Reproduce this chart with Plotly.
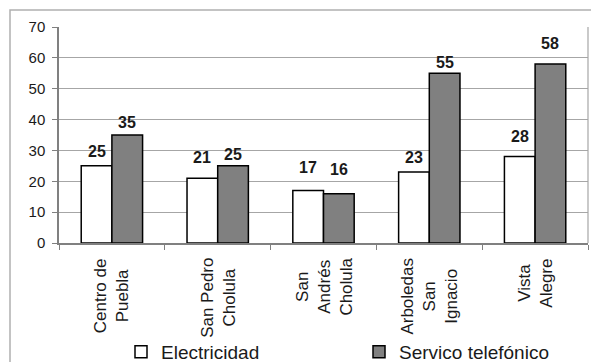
import plotly.graph_objects as go

# Survey results by neighbourhood
colonias = ["Centro de<br>Puebla", "San Pedro<br>Cholula", "San<br>Andrés<br>Cholula",
            "Arboledas<br>San<br>Ignacio", "Vista<br>Alegre"]
electricidad = [25, 21, 17, 23, 28]
telefono = [35, 25, 16, 55, 58]
y_ticks = [0, 10, 20, 30, 40, 50, 60, 70]

# vertical lift (px) of each value label above its bar
lift_elec = [8, 14, 17, 8, 14]
lift_tel = [6, 5, 18, 4, 14]
# box length (px) of each rotated category name, sized to its longest line
name_box = [79, 84, 62, 81, 54]

FONT = "Liberation Sans, Arial, sans-serif"
INK = "#1a1a1a"
BARGAP = 0.42

fig = go.Figure()
fig.add_trace(go.Bar(
    x=list(range(len(colonias))), y=electricidad, name="Electricidad",
    marker=dict(color="white", line=dict(color="black", width=1.5)),
    legend="legend",
))
fig.add_trace(go.Bar(
    x=list(range(len(colonias))), y=telefono, name="Servico telefónico",
    marker=dict(color="#808080", line=dict(color="black", width=1.5)),
    legend="legend2",
))

W, H = 591, 362
L, R, T, B = 59, 3, 27, 119
pw, ph = W - L - R, H - T - B

def px(x):
    return (x - L) / pw

def py(y):
    return (H - B - y) / ph

annotations = []
# value labels above each bar (bar centres are a quarter of the group width off the category)
off = (1 - BARGAP) / 4
for i in range(len(colonias)):
    for val, lift, dx in ((electricidad[i], lift_elec[i], -off), (telefono[i], lift_tel[i], off)):
        annotations.append(dict(
            x=i + dx, y=val, xref="x", yref="y", text=f"<b>{val}</b>",
            showarrow=False, yanchor="bottom", xanchor="center", yshift=lift - 4,
            font=dict(family=FONT, size=16, color=INK)))
# category names, rotated, hanging from the axis, lines centred on each other
for i, name in enumerate(colonias):
    annotations.append(dict(
        x=i, y=py(254), xref="x", yref="paper", text=name, showarrow=False,
        textangle=-90, align="center", width=name_box[i], xanchor="center", yanchor="top",
        font=dict(family=FONT, size=17, color=INK)))

legend_style = dict(orientation="h", xref="container", yref="container",
                    y=1 - 352 / H, yanchor="middle", xanchor="left",
                    font=dict(family=FONT, size=19, color=INK),
                    bgcolor="rgba(0,0,0,0)")

fig.update_layout(
    width=W, height=H,
    margin=dict(l=L, r=R, t=T, b=B, pad=0, autoexpand=False),
    paper_bgcolor="white", plot_bgcolor="white",
    barmode="group", bargap=BARGAP, bargroupgap=0,
    font=dict(family=FONT, color=INK),
    showlegend=True,
    legend=dict(legend_style, x=121 / W),
    legend2=dict(legend_style, x=359 / W),
    xaxis=dict(range=[-0.5, len(colonias) - 0.5],
               tickvals=[i - 0.5 for i in range(len(colonias) + 1)],
               showticklabels=False,
               ticks="outside", ticklen=5, tickcolor="#808080",
               showline=True, linecolor="#808080", linewidth=1.5,
               showgrid=False, zeroline=False),
    yaxis=dict(range=[0, 70], tickvals=y_ticks, ticks="outside", ticklen=5,
               tickcolor="#808080", showline=True, linecolor="#808080", linewidth=1.5,
               showgrid=True, gridcolor="#a6a6a6", gridwidth=1.2, zeroline=False,
               ticklabelstandoff=4,
               tickfont=dict(family=FONT, size=15, color=INK)),
    annotations=annotations,
    shapes=[
        # outer chart frame
        dict(type="rect", xref="paper", yref="paper",
             x0=px(10), x1=px(600), y0=py(372), y1=py(10),
             line=dict(color="#b0b0b0", width=1.5), layer="below"),
        # right edge of plot area
        dict(type="line", xref="paper", yref="paper", x0=1, x1=1, y0=0, y1=1,
             line=dict(color="#a6a6a6", width=1.2)),
    ],
)

fig.write_html("out.html")
